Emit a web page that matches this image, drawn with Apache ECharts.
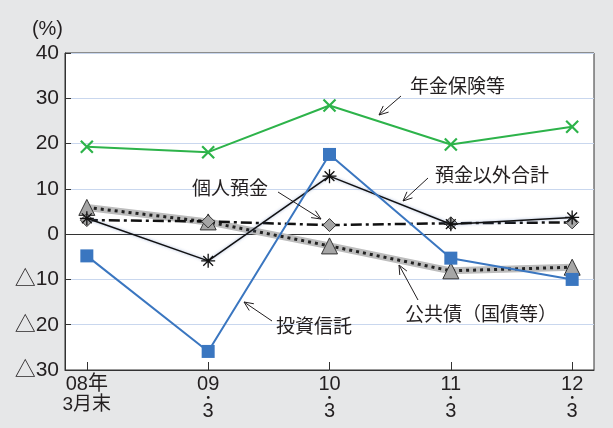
<!DOCTYPE html>
<html><head><meta charset="utf-8">
<script src="https://cdn.jsdelivr.net/npm/echarts@6/dist/echarts.min.js"></script>
<style>html,body{margin:0;padding:0;background:#e6e7e8;}#c{width:613px;height:428px;}</style>
</head><body><div id="c"></div>
<script>
const categories = ['08年|3月末', '09|3', '10|3', '11|3', '12|3'];
const yTicks = [-30, -20, -10, 0, 10, 20, 30, 40];
const nenkin = [19.3, 18.1, 28.4, 19.8, 23.7];      // 年金保険等
const toshin = [-4.8, -25.9, 17.6, -5.3, -10.0];    // 投資信託
const yokinIgai = [3.5, -5.9, 12.8, 2.2, 3.7];      // 預金以外合計
const kojinYokin = [3.1, 2.8, 2.0, 2.4, 2.6];       // 個人預金
const kokyosai = [5.9, 2.7, -2.6, -8.1, -7.3];      // 公共債（国債等）

const pts = a => a.map((v, i) => [i, v]);
const FONT = '"Liberation Sans", "Noto Sans CJK JP", sans-serif';
const JP = '"Noto Sans CJK JP", sans-serif';
const TXT = '#231f20';

function arrow(x1, y1, x2, y2) {
  const ang = Math.atan2(y2 - y1, x2 - x1);
  const L = 10, a = 0.42;
  const p1 = [x2 - L * Math.cos(ang - a), y2 - L * Math.sin(ang - a)];
  const p2 = [x2 - L * Math.cos(ang + a), y2 - L * Math.sin(ang + a)];
  return [
    {type: 'line', shape: {x1, y1, x2, y2}, style: {stroke: '#231f20', lineWidth: 1}, z: 100},
    {type: 'polyline', shape: {points: [p1, [x2, y2], p2]}, style: {stroke: '#231f20', lineWidth: 1, fill: null}, z: 100}
  ];
}
function label(text, x, y) {
  return {type: 'text', x, y, style: {text, fill: TXT, font: '19px ' + JP, textVerticalAlign: 'middle'}, z: 100};
}

const chart = echarts.init(document.getElementById('c'));
const xMark = 'path://M0,0L10,10M10,0L0,10';
const astMark = 'path://M5,0L5,10M0,5L10,5M1.5,1.5L8.5,8.5M8.5,1.5L1.5,8.5';

chart.setOption({
  backgroundColor: '#e6e7e8',
  animation: false,
  grid: {left: 65, right: 19, top: 53, bottom: 58, show: true, backgroundColor: '#fff', borderColor: '#333', borderWidth: 1},
  xAxis: {
    type: 'value', min: -0.18, max: 4.18,
    axisLine: {onZero: false, lineStyle: {color: '#333', width: 1}},
    splitLine: {show: false},
    axisTick: {show: true, inside: true, length: 8, customValues: [0, 1, 2, 3, 4], lineStyle: {color: '#333'}},
    axisLabel: {
      customValues: [0, 1, 2, 3, 4], margin: 5,
      formatter: v => {
        const parts = categories[Math.round(v)].split('|');
        if (Math.round(v) === 0) return '{a|' + parts[0] + '}\n{b|' + parts[1] + '}';
        return '{a|' + parts[0] + '}\n{d|・}\n{a|' + parts[1] + '}';
      },
      rich: {
        a: {fontSize: 20, lineHeight: 18, color: TXT, fontFamily: FONT},
        b: {fontSize: 19, lineHeight: 24, color: TXT, fontFamily: FONT},
        d: {fontSize: 13, lineHeight: 9, color: TXT, fontFamily: JP}
      }
    }
  },
  yAxis: {
    type: 'value', min: -30, max: 40, interval: 10,
    name: '(%)', nameLocation: 'end', nameGap: 14,
    nameTextStyle: {align: 'right', fontSize: 20, color: TXT, fontFamily: FONT, padding: [0, 2, 0, 0]},
    axisLine: {show: true, onZero: false, lineStyle: {color: '#333', width: 1}},
    axisTick: {show: true, inside: true, length: 6, lineStyle: {color: '#333'}},
    axisLabel: {fontSize: 21, color: TXT, fontFamily: FONT, margin: 6,
      formatter: v => v < 0 ? '△' + (-v) : String(v)},
    splitLine: {show: true, lineStyle: {color: yTicks.map(v => v === 0 ? '#333' : '#c9d7ee'), width: 1}}
  },
  series: [
    {name: '公共債（国債等）', type: 'line', data: pts(kokyosai), showSymbol: false, symbol: 'none',
     lineStyle: {color: '#bdbdbd', width: 7}, z: 1},
    {name: '公共債（国債等）', type: 'line', data: pts(kokyosai), symbol: 'triangle', symbolSize: 16,
     itemStyle: {color: '#a6a6a6', borderColor: '#333', borderWidth: 1},
     lineStyle: {color: '#222', width: 3, type: [3, 4]}, z: 2},
    {name: '個人預金', type: 'line', data: pts(kojinYokin), symbol: 'diamond', symbolSize: 13,
     itemStyle: {color: '#a6a6a6', borderColor: '#333', borderWidth: 1},
     lineStyle: {color: '#111', width: 2.5, type: [11, 4, 3, 4]}, z: 3},
    {name: '預金以外合計', type: 'line', data: pts(yokinIgai), symbol: astMark, symbolSize: 14,
     itemStyle: {color: '#111', borderColor: '#111', borderWidth: 1.3},
     lineStyle: {color: '#111', width: 1.5, shadowColor: 'rgba(90,120,180,0.6)', shadowBlur: 3}, z: 4},
    {name: '投資信託', type: 'line', data: pts(toshin), symbol: 'rect', symbolSize: 13,
     itemStyle: {color: '#3a76c0'}, lineStyle: {color: '#3a76c0', width: 2}, z: 5},
    {name: '年金保険等', type: 'line', data: pts(nenkin), symbol: xMark, symbolSize: 12,
     itemStyle: {color: '#2db34a', borderColor: '#2db34a', borderWidth: 2.2},
     lineStyle: {color: '#2db34a', width: 2}, z: 6}
  ],
  graphic: [
    label('年金保険等', 410, 86), ...arrow(401, 96, 379, 115),
    label('預金以外合計', 435, 175), ...arrow(428, 178, 403, 201),
    label('個人預金', 192, 188), ...arrow(278, 192, 321, 219),
    label('投資信託', 276, 326), ...arrow(272, 321, 244, 302),
    label('公共債（国債等）', 405, 314), ...arrow(418, 300, 399, 265)
  ]
});
</script></body></html>
